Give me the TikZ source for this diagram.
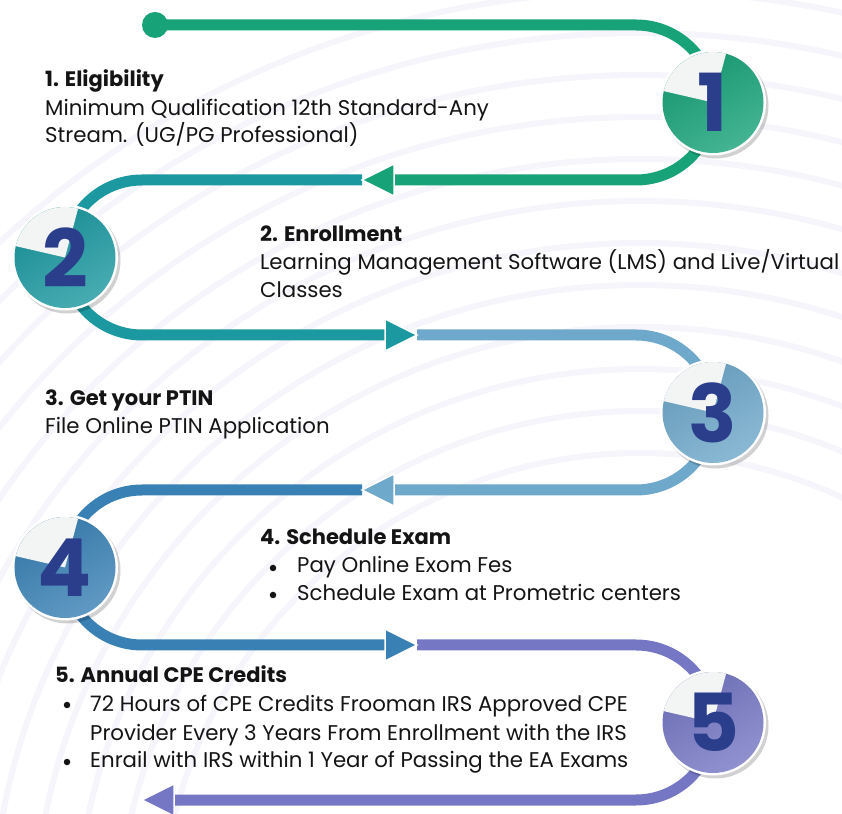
\documentclass[tikz,border=0pt]{standalone}
\usepackage{fontspec}
\setmainfont{Poppins}
\usetikzlibrary{shadows}
\definecolor{cgreen}{RGB}{23,162,120}
\definecolor{cteal}{RGB}{27,152,160}
\definecolor{clight}{RGB}{110,168,202}
\definecolor{cblue}{RGB}{57,129,181}
\definecolor{cpurple}{RGB}{117,119,196}
\definecolor{navy}{RGB}{42,62,140}
\definecolor{ink}{RGB}{20,20,20}
\definecolor{wedgecol}{RGB}{243,244,244}
\definecolor{bgcol}{RGB}{245,245,251}
\begin{document}
\begin{tikzpicture}[x=1pt,y=1pt,
  track/.style={line width=11pt},
  head/.style={draw=white, line width=1.5pt, line join=miter},
  body/.style={anchor=base west, inner sep=0pt, text=ink, font=\fontsize{21.3}{25}\selectfont},
  titletext/.style={anchor=base west, inner sep=0pt, text=ink, font=\fontsize{21}{25}\selectfont\bfseries},
  bulletdot/.style={circle, fill=ink, inner sep=0pt, minimum size=6.5pt},
  bgline/.style={draw=bgcol, line width=6pt},
  digit/.style={inner sep=0pt, text=navy, font=\fontsize{80}{80}\selectfont\bfseries},
  badge/.style={circle, minimum size=106pt, inner sep=0pt, fill=white,
    drop shadow={shadow xshift=2.5pt, shadow yshift=-3pt, fill=black, opacity=0.18},
    path picture={
      \shade[top color=#1!92!black, bottom color=#1!80!white, shading angle=30]
        (path picture bounding box.center) circle[radius=50.5pt];
      \fill[wedgecol] (path picture bounding box.center) -- ++(75:50.5pt)
        arc[start angle=75, end angle=167, radius=50.5pt] -- cycle;
    }},
]
\useasboundingbox (0,0) rectangle (842,813);
% background swooshes
\begin{scope}
  \clip (0,0) rectangle (842,813);
  \foreach \r in {480,522,...,960} \draw[bgline] (640,-120) circle[radius=\r pt];
\end{scope}

% key points
\coordinate (s0) at (155,788);
\coordinate (t1) at (362,633);
\coordinate (t2) at (417,478);
\coordinate (t3) at (362,323);
\coordinate (t4) at (417,168);
\coordinate (t5) at (142,13);
\coordinate (a1) at (394,633);
\coordinate (a2) at (386,478);
\coordinate (a3) at (394,323);
\coordinate (a4) at (386,168);
\coordinate (a5) at (174,13);

% tracks
\draw[track, cgreen] (s0) -- (636,788) arc[start angle=90, end angle=-90, radius=77.5pt] -- (a1);
\draw[track, cteal] (t1) -- (142,633) arc[start angle=90, end angle=270, radius=77.5pt] -- (a2);
\draw[track, clight] (t2) -- (636,478) arc[start angle=90, end angle=-90, radius=77.5pt] -- (a3);
\draw[track, cblue] (t3) -- (142,323) arc[start angle=90, end angle=270, radius=77.5pt] -- (a4);
\draw[track, cpurple] (t4) -- (636,168) arc[start angle=90, end angle=-90, radius=77.5pt] -- (a5);
\fill[cgreen] (s0) circle[radius=13pt];

% arrow heads
\filldraw[head, fill=cgreen] (t1) -- ++(32,16) -- ++(0,-32) -- cycle;
\filldraw[head, fill=cteal] (t2) -- ++(-32,16) -- ++(0,-32) -- cycle;
\filldraw[head, fill=clight] (t3) -- ++(32,16) -- ++(0,-32) -- cycle;
\filldraw[head, fill=cblue] (t4) -- ++(-32,16) -- ++(0,-32) -- cycle;
\filldraw[head, fill=cpurple] (t5) -- ++(32,16) -- ++(0,-32) -- cycle;

% badges
\node[badge=cgreen] (b1) at (713,710.5) {};
\node[badge=cteal] (b2) at (65,555.5) {};
\node[badge=clight] (b3) at (713,400.5) {};
\node[badge=cblue] (b4) at (65,245.5) {};
\node[badge=cpurple] (b5) at (713,90.5) {};
\node[digit] (d1) at (b1) {1};
\node[digit] (d2) at (b2) {2};
\node[digit] (d3) at (b3) {3};
\node[digit] (d4) at (b4) {4};
\node[digit] (d5) at (b5) {5};

% texts
\node[titletext] (h1) at (45,726) {1. Eligibility};
\node[body] (l1a) at (45,697) {Minimum Qualification 12th Standard-Any};
\node[body] (l1b) at (45,670) {Stream. (UG/PG Professional)};

\node[titletext] (h2) at (260,571) {2. Enrollment};
\node[body] (l2a) at (260,543) {Learning Management Software (LMS) and Live/Virtual};
\node[body] (l2b) at (260,515) {Classes};

\node[titletext] (h3) at (45,407) {3. Get your PTIN};
\node[body] (l3a) at (45,379) {File Online PTIN Application};

\node[titletext] (h4) at (260,268) {4. Schedule Exam};
\node[bulletdot] (p4a) at (273,245) {};
\node[body] (l4a) at (297,240) {Pay Online Exom Fes};
\node[bulletdot] (p4b) at (273,218) {};
\node[body] (l4b) at (297,212) {Schedule Exam at Prometric centers};

\node[titletext] (h5) at (55,130) {5. Annual CPE Credits};
\node[bulletdot] (p5a) at (67,108) {};
\node[body] (l5a) at (90,101) {72 Hours of CPE Credits Frooman IRS Approved CPE};
\node[body] (l5b) at (90,73) {Provider Every 3 Years From Enrollment with the IRS};
\node[bulletdot] (p5b) at (67,51) {};
\node[body] (l5c) at (90,46) {Enrail with IRS within 1 Year of Passing the EA Exams};
\end{tikzpicture}
\end{document}
